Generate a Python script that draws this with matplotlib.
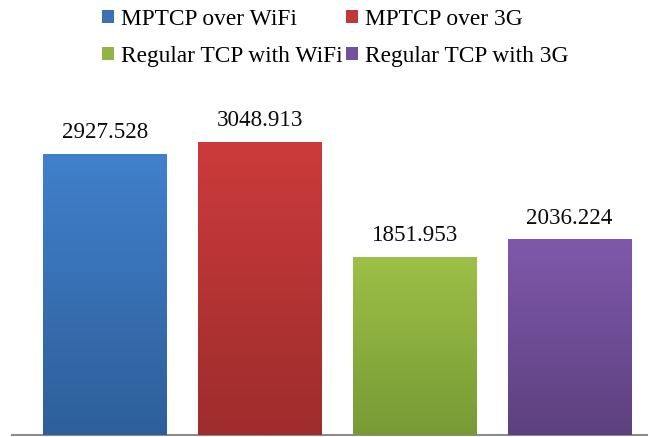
import matplotlib
matplotlib.use("Agg")
import matplotlib.pyplot as plt
import numpy as np
from matplotlib.colors import LinearSegmentedColormap

categories = ["MPTCP over WiFi", "MPTCP over 3G", "Regular TCP with WiFi", "Regular TCP with 3G"]
values = [2927.528, 3048.913, 1851.953, 2036.224]
labels = ["2927.528", "3048.913", "1851.953", "2036.224"]

top_colors = ["#4180cc", "#cc3b3b", "#9dc048", "#8058ab"]
bot_colors = ["#2d5f9a", "#9e2c2c", "#779a35", "#5d417f"]
legend_colors = ["#3a70b8", "#c0393a", "#92b444", "#7451a0"]

plt.rcParams['font.family'] = ['Liberation Serif', 'DejaVu Serif']

fig = plt.figure(figsize=(6.58, 4.37), dpi=100)
ax = fig.add_axes([12/658, 2/437, (647-12)/658, 435/437])
ax.set_xlim(-0.6, 3.5)
ax.set_ylim(0, 435 * 10.4)

x = np.arange(len(values))
bars = ax.bar(x, values, width=0.8, color=legend_colors, zorder=2)

grad = np.linspace(1, 0, 256).reshape(-1, 1)
for b, tc, bc in zip(bars, top_colors, bot_colors):
    cmap = LinearSegmentedColormap.from_list("g", [bc, tc])
    x0, y0 = b.get_x(), b.get_y()
    w, h = b.get_width(), b.get_height()
    im = ax.imshow(grad, cmap=cmap, aspect='auto', extent=[x0, x0 + w, y0, y0 + h],
                   origin='upper', zorder=3, vmin=0, vmax=1)
    im.set_clip_path(b)

for xi, v, lab in zip(x, values, labels):
    ax.text(xi, v + 110, lab, ha='center', va='bottom', fontsize=16.6, color='#0a0a0a', zorder=4)

for s in ['top', 'right', 'left']:
    ax.spines[s].set_visible(False)
ax.spines['bottom'].set_color('#8c8c8c')
ax.spines['bottom'].set_linewidth(1.5)
ax.set_xticks([])
ax.set_yticks([])

order = [0, 2, 1, 3]
handles = [bars[i] for i in order]
labs = [categories[i] for i in order]
leg = fig.legend(handles, labs, ncol=2, frameon=False, loc='upper left',
                 bbox_to_anchor=(88/658, 1 + 5/437), fontsize=16.8,
                 handlelength=0.5, handleheight=0.5, handletextpad=0.3,
                 columnspacing=0.17, labelspacing=0.68, borderaxespad=0.2)

fig.savefig("out.png", dpi=100)
